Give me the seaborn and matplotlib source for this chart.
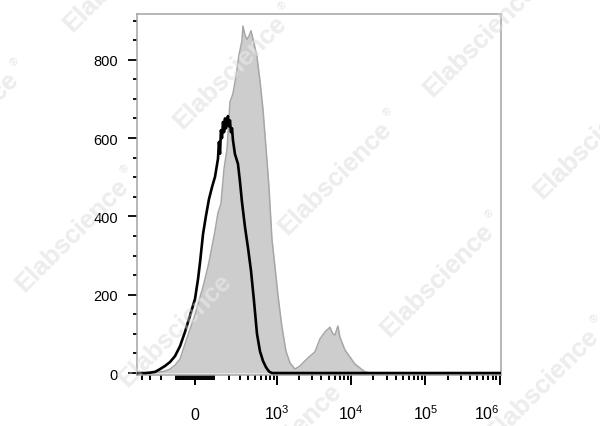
import numpy as np
import pandas as pd
import matplotlib
matplotlib.use("Agg")
import matplotlib.pyplot as plt
import seaborn as sns
from matplotlib.transforms import offset_copy

# ---------------- data ----------------
gray_x = [-466, -357, -300, -251, -208, -170, -136, -105, -76, -50, -25, 0, 25, 40, 55,
          71, 88, 105, 123, 142, 163, 185, 208, 233, 260, 290, 322, 333, 357, 382, 408,
          436, 481, 531, 584, 643, 707, 778, 855, 940, 1032, 1170, 1325, 1502, 1754,
          2050, 2393, 2794, 3263, 3810, 4449, 4881, 5195, 5697, 6063, 6651, 7079, 8263,
          9648, 11265, 13150, 15350, 17920, 24430, 1040000]
gray_counts = [0, 0, 1, 1, 3, 5, 10, 20, 36, 74, 112, 148, 194, 220, 250,
               283, 324, 363, 409, 432, 521, 572, 692, 713, 756, 812, 848, 886, 863, 852, 860,
               874, 843, 807, 746, 674, 577, 475, 342, 271, 199, 117, 56, 26, 10,
               18, 31, 43, 54, 87, 105, 112, 117, 100, 97, 120, 92, 59,
               41, 23, 13, 3, 0, 0, 0]

black_x = [-466, -357, -300, -251, -208, -170, -136, -105, -76, -50, -25, 0, 15, 25, 40,
           55, 71, 88, 105, 123, 129, 136, 142, 149, 156, 163, 170, 177, 185, 192, 200,
           208, 216, 225, 233, 251, 280, 300, 322, 357, 395, 436, 481, 531, 584, 643,
           707, 778, 855, 1040000]
black_counts = [0, 0, 1, 3, 10, 18, 28, 43, 69, 105, 146, 189, 240, 283, 355,
                401, 444, 475, 501, 547, 590, 560, 620, 600, 641, 615, 650, 625, 645, 656, 630,
                645, 615, 625, 595, 559, 534, 490, 437, 373, 320, 262, 185, 100, 56, 31,
                15, 4, 0, 0]

y_major = [0, 200, 400, 600, 800]
y_minor = [50, 100, 150, 250, 300, 350, 450, 500, 550, 650, 700, 750, 850, 900]
x_major = [0, 1e3, 1e4, 1e5, 1e6]
x_major_labels = ["0", r"$10^{3}$", r"$10^{4}$", r"$10^{5}$", r"$10^{6}$"]
x_minor = [-400, -300, -200, -100, -90, -80, -70, -60, -50, -40, -30, -20, -10,
           10, 20, 30, 40, 50, 60, 70, 80, 90, 100, 200, 300, 400, 500, 600, 700, 800, 900,
           2e3, 3e3, 4e3, 5e3, 6e3, 7e3, 8e3, 9e3,
           2e4, 3e4, 4e4, 5e4, 6e4, 7e4, 8e4, 9e4,
           2e5, 3e5, 4e5, 5e5, 6e5, 7e5, 8e5, 9e5]

watermark_text = "Elabscience"
watermark_centers = [(120, -25), (230, 72), (335, 178), (437, 280), (542, 385),
                     (-38, 128), (72, 235), (175, 330), (285, 440),
                     (480, 40), (590, 142)]

# ---------------- biexponential-like axis ----------------
COF = 159.0


def fwd(v):
    return np.arcsinh(np.asarray(v, dtype=float) / COF)


def inv(v):
    return COF * np.sinh(np.asarray(v, dtype=float))


sns.set_theme(style="ticks")
plt.rcParams['font.family'] = ['Liberation Sans', 'DejaVu Sans']
plt.rcParams['mathtext.default'] = 'regular'

W, H = 600, 427
fig = plt.figure(figsize=(W / 100, H / 100), dpi=100)
ax_left, ax_right, ax_top, ax_bottom = 137, 501, 14.5, 375.6
ax = fig.add_axes([ax_left / W, 1 - ax_bottom / H, (ax_right - ax_left) / W, (ax_bottom - ax_top) / H])
ax.set_facecolor('none')
ax.set_xscale('function', functions=(fwd, inv))

gray = pd.DataFrame({'intensity': gray_x, 'count': gray_counts})
black = pd.DataFrame({'intensity': black_x, 'count': black_counts})

ax.fill_between(gray['intensity'], gray['count'], color='#cdcdcd', lw=0, zorder=1)
sns.lineplot(data=gray, x='intensity', y='count', sort=False, estimator=None,
             color='#a6a6a6', lw=1.1, ax=ax, zorder=2)
sns.lineplot(data=black, x='intensity', y='count', sort=False, estimator=None,
             color='black', lw=1.9, ax=ax, zorder=3)

ax.set_xlim(-466, 1.04e6)
ax.set_ylim(-4, 918)
ax.set_xlabel('')
ax.set_ylabel('')

ax.set_yticks(y_major)
ax.set_yticks(y_minor, minor=True)
ax.set_xticks(x_major, x_major_labels)
ax.set_xticks(x_minor, minor=True)

ax.tick_params(axis='y', which='major', direction='out', length=6.5, width=1.3,
               color='black', pad=7.2, labelsize=10.5, labelcolor='black', left=True)
ax.tick_params(axis='y', which='minor', direction='out', length=3, width=1.3, color='black', left=True)
ax.tick_params(axis='x', which='major', direction='out', length=7, width=1.4,
               color='black', pad=25, labelsize=11.5, labelcolor='black', bottom=True)
ax.tick_params(axis='x', which='minor', direction='out', length=3.5, width=1.4, color='black', bottom=True)

for lab in ax.get_xticklabels():
    lab.set_va('baseline')
ax.get_xticklabels()[-1].set_ha('right')

for side in ['left', 'right', 'top', 'bottom']:
    ax.spines[side].set_visible(True)
    ax.spines[side].set_color('#a3a3a3')
    ax.spines[side].set_linewidth(1.1)

# ---------------- watermarks ----------------
c45 = np.cos(np.deg2rad(45))
for (cx, cy) in watermark_centers:
    fx, fy = cx / W, 1 - cy / H
    fig.text(fx, fy, watermark_text, rotation=45, rotation_mode='anchor', ha='center', va='center',
             fontsize=18.5, fontweight='bold', color='#e4e4e4', zorder=-1)
    fig.text(fx, fy, watermark_text, rotation=45, rotation_mode='anchor', ha='center', va='center',
             fontsize=18.5, fontweight='bold', color='white', alpha=0.35, zorder=10)
    along, perp = 84, 9
    tr = offset_copy(fig.transFigure, fig=fig, x=(along - perp) * c45, y=(along + perp) * c45, units='dots')
    fig.text(fx, fy, "®", transform=tr, rotation=45, rotation_mode='anchor', ha='center', va='center',
             fontsize=8, color='#e4e4e4', zorder=-1)

fig.savefig('out.png', dpi=100)
